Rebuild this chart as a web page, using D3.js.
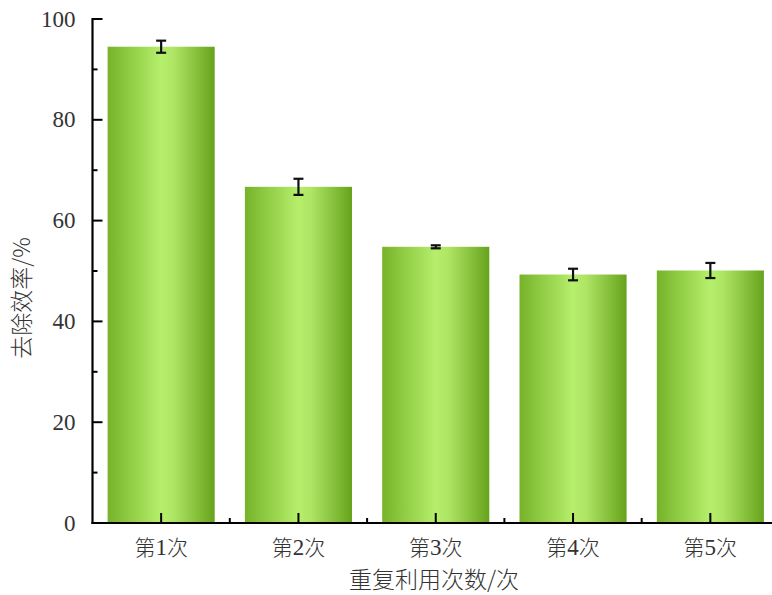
<!DOCTYPE html>
<html><head><meta charset="utf-8">
<script src="https://cdn.jsdelivr.net/npm/d3@7"></script>
<style>body{margin:0;background:#fff}svg{display:block}</style>
</head><body>
<script>
const categories = ["第1次","第2次","第3次","第4次","第5次"];
const values = [94.5, 66.7, 54.8, 49.3, 50.1];
const errors = [1.2, 1.6, 0.3, 1.15, 1.5];
const yTicks = [0,20,40,60,80,100];
const yLabel = "去除效率/%";
const xLabel = "重复利用次数/次";

(function(){
const W=772,H=595;
const svg=d3.select("body").append("svg").attr("width",W).attr("height",H);
const pL=92.5, pR=779, pT=19, pB=523;
const x=d3.scaleBand().domain(categories).range([pL,pR]).paddingInner(0.22).paddingOuter(0.11);
const y=d3.scaleLinear().domain([0,100]).range([pB,pT]);

const defs=svg.append("defs");
const g=defs.append("linearGradient").attr("id","bg").attr("x1","0%").attr("x2","100%").attr("y1","0%").attr("y2","0%");
g.append("stop").attr("offset","0%").attr("stop-color","#76b329");
g.append("stop").attr("offset","50%").attr("stop-color","#b6ef6c");
g.append("stop").attr("offset","62%").attr("stop-color","#aee564");
g.append("stop").attr("offset","100%").attr("stop-color","#66a31c");

svg.append("g").selectAll("rect").data(values).join("rect")
 .attr("x",(d,i)=>x(categories[i])).attr("width",x.bandwidth())
 .attr("y",d=>y(d)).attr("height",d=>y(0)-y(d)).attr("fill","url(#bg)");

const eb=svg.append("g").attr("stroke","#111").attr("stroke-width",2.2);
values.forEach((v,i)=>{
  const cx=x(categories[i])+x.bandwidth()/2;
  const e=errors[i];
  eb.append("line").attr("x1",cx).attr("x2",cx).attr("y1",y(v+e)).attr("y2",y(v-e));
  eb.append("line").attr("x1",cx-5).attr("x2",cx+5).attr("y1",y(v+e)).attr("y2",y(v+e));
  eb.append("line").attr("x1",cx-5).attr("x2",cx+5).attr("y1",y(v-e)).attr("y2",y(v-e));
});

const ya=svg.append("g").attr("transform",`translate(${pL},0)`);
ya.append("line").attr("x1",0).attr("x2",0).attr("y1",y(100)-1).attr("y2",y(0)+1).attr("stroke","#000").attr("stroke-width",2.2);
d3.range(0,101,10).forEach(t=>{
  const major=t%20===0;
  ya.append("line").attr("x1",0).attr("x2",major?10:5).attr("y1",y(t)).attr("y2",y(t)).attr("stroke","#000").attr("stroke-width",2);
});
yTicks.forEach(t=>{
  ya.append("text").attr("x",-17).attr("y",y(t)).attr("dy","0.33em").attr("text-anchor","end")
   .attr("font-family","'Liberation Serif','DejaVu Serif',serif").attr("font-size",23).attr("fill","#333").text(t);
});

const xa=svg.append("g").attr("transform",`translate(0,${pB})`);
xa.append("line").attr("x1",pL-1).attr("x2",pR).attr("y1",0).attr("y2",0).attr("stroke","#000").attr("stroke-width",2.2);
categories.forEach((c,i)=>{
  const cx=x(c)+x.bandwidth()/2;
  xa.append("line").attr("x1",cx).attr("x2",cx).attr("y1",0).attr("y2",-10).attr("stroke","#000").attr("stroke-width",2);
  if(i>0){
    const bx=x(c)-x.step()*x.paddingInner()/2;
    xa.append("line").attr("x1",bx).attr("x2",bx).attr("y1",0).attr("y2",-5).attr("stroke","#000").attr("stroke-width",2);
  }
  const t=xa.append("text").attr("x",cx).attr("y",32).attr("text-anchor","middle").attr("fill","#333").attr("font-size",21)
   .attr("font-family","'Noto Sans CJK SC',sans-serif").attr("font-weight",300);
  const m=c.match(/^(\D+)(\d+)(\D+)$/);
  t.append("tspan").text(m[1]);
  t.append("tspan").attr("font-family","'Liberation Serif',serif").attr("font-size",23).text(m[2]);
  t.append("tspan").text(m[3]);
});

svg.append("text").attr("x",434).attr("y",588).attr("text-anchor","middle").attr("fill","#333").attr("font-size",23)
 .attr("font-family","'Noto Sans CJK SC',sans-serif").attr("font-weight",300).text(xLabel);
svg.append("text").attr("transform","translate(30,298) rotate(-90)").attr("text-anchor","middle").attr("fill","#333").attr("font-size",23)
 .attr("font-family","'Noto Sans CJK SC',sans-serif").attr("font-weight",300).text(yLabel);
})();
</script>
</body></html>
